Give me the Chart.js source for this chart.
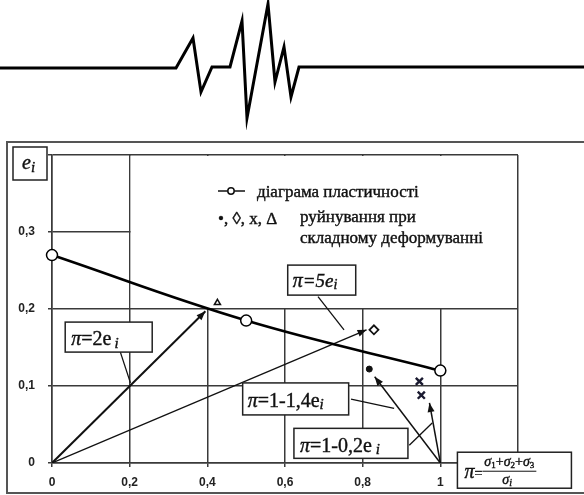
<!DOCTYPE html>
<html>
<head>
<meta charset="utf-8">
<script src="https://cdn.jsdelivr.net/npm/chart.js@4.4.1/dist/chart.umd.min.js"></script>
<style>
  html, body { margin: 0; padding: 0; background: #fff; }
  #wave { position: absolute; left: 0; top: 0; }
  #main { position: absolute; left: 0; top: 130px; }
</style>
</head>
<body>
<canvas id="wave" width="584" height="130"></canvas>
<canvas id="main" width="584" height="365"></canvas>
<script>
// decorative header line (pixel units of its own canvas)
const waveX = [0, 176, 193, 201, 212, 230, 242, 247, 268, 275, 284, 291, 299, 584];
const waveY = [68, 68, 38, 92, 67, 67, 21, 118, 4, 82, 47, 97, 67, 67];

// plasticity diagram e_i(p)
const plastX = [0, 0.5, 1];
const plastY = [0.27, 0.185, 0.12];

// failure points under complex loading
const dotPts = [{ x: 0.817, y: 0.122 }];
const diamondPts = [{ x: 0.829, y: 0.173 }];
const crossPts = [{ x: 0.946, y: 0.106 }, { x: 0.951, y: 0.088 }];
const trianglePts = [{ x: 0.426, y: 0.208 }];

// loading paths (arrows)
const pathP2 = [{ x: 0, y: 0 }, { x: 0.395, y: 0.197 }];
const pathP5 = [{ x: 0, y: 0 }, { x: 0.81, y: 0.173 }];
const pathDot = [{ x: 1, y: 0 }, { x: 0.831, y: 0.112 }];
const pathCross = [{ x: 1, y: 0 }, { x: 0.972, y: 0.078 }];

// leader lines from labels
const leadP2 = [{ x: 0.176, y: 0.144 }, { x: 0.202, y: 0.104 }];
const leadP5 = [{ x: 0.685, y: 0.216 }, { x: 0.752, y: 0.173 }];
const leadP14 = [{ x: 0.770, y: 0.083 }, { x: 0.881, y: 0.071 }];
const leadP02 = [{ x: 0.920, y: 0.023 }, { x: 0.979, y: 0.052 }];

const xTicks = [0, 0.2, 0.4, 0.6, 0.8, 1];
const yTicks = [0, 0.1, 0.2, 0.3];

const INK = '#111';
const GRID = '#3a3a3a';
const SERIF = '"Liberation Serif", "DejaVu Serif", serif';

new Chart(document.getElementById('wave'), {
  type: 'line',
  data: {
    datasets: [{
      data: waveX.map((x, i) => ({ x, y: waveY[i] })),
      borderColor: '#000', borderWidth: 3, pointRadius: 0, tension: 0,
      borderJoinStyle: 'miter'
    }]
  },
  options: {
    responsive: false, animation: false, devicePixelRatio: 1,
    layout: { padding: 0 },
    plugins: { legend: { display: false }, tooltip: { enabled: false } },
    scales: {
      x: { type: 'linear', min: 0, max: 584, display: false },
      y: { type: 'linear', min: 0, max: 130, reverse: true, display: false }
    }
  }
});

function fmtTick(v) {
  if (Math.abs(v) < 1e-9) return '0';
  if (Math.abs(v - 1) < 1e-9) return '1';
  return v.toFixed(1).replace('.', ',');
}

// draws a run of text pieces (italic / subscript) with a slight heavy stroke like the scan
function rich(ctx, x, y, parts) {
  parts.forEach((p) => {
    ctx.font = (p.it ? 'italic ' : '') + (p.bold ? 'bold ' : '') + p.size + 'px ' + SERIF;
    ctx.fillText(p.t, x, y + (p.dy || 0));
    ctx.lineWidth = 0.4;
    ctx.strokeStyle = ctx.fillStyle;
    ctx.strokeText(p.t, x, y + (p.dy || 0));
    x += ctx.measureText(p.t).width + (p.gap || 0);
  });
  return x;
}

function lineSet(data, width, order) {
  return {
    type: 'line', data, borderColor: INK, borderWidth: width,
    pointRadius: 0, tension: 0, order: order || 5
  };
}

const arrowSets = [
  Object.assign(lineSet(pathP2, 2), { arrow: true }),
  Object.assign(lineSet(pathP5, 1.3), { arrow: true }),
  Object.assign(lineSet(pathDot, 1.5), { arrow: true }),
  Object.assign(lineSet(pathCross, 1.5), { arrow: true })
];
const leaderSets = [leadP2, leadP5, leadP14, leadP02].map((d) => lineSet(d, 1.3));

const p = () => ({ t: 'π', it: true, size: 20 });
const labelBoxes = [
  { x: 0.034, y: 0.183, w: 87, h: 30, tx: 6, ty: 23,
    parts: [p(), { t: '=2e', size: 20, gap: 3 }, { t: 'i', it: true, size: 15, dy: 3 }] },
  { x: 0.607, y: 0.257, w: 68, h: 30, tx: 5, ty: 22,
    parts: [p(), { t: '=5e', it: true, size: 19 }, { t: 'i', it: true, size: 14, dy: 2 }] },
  { x: 0.491, y: 0.104, w: 106, h: 32, tx: 5, ty: 24,
    parts: [p(), { t: '=1-1,4e', size: 20 }, { t: 'i', it: true, size: 15, dy: 2 }] },
  { x: 0.623, y: 0.045, w: 114, h: 30, tx: 6, ty: 24,
    parts: [p(), { t: '=1-0,2e', size: 20, gap: 4 }, { t: 'i', it: true, size: 15, dy: 2 }] }
];

const decor = {
  id: 'decor',
  beforeDatasetsDraw(chart) {
    const { ctx, scales: { x, y } } = chart;
    // blank the upper-right cell block that holds the legend
    const x0 = x.getPixelForValue(0.2), x1 = x.getPixelForValue(1.2);
    const y0 = y.getPixelForValue(0.4), y1 = y.getPixelForValue(0.2);
    ctx.save();
    ctx.fillStyle = '#fff';
    ctx.fillRect(x0 + 1, y0 + 1, x1 - x0 - 2, y1 - y0 - 2);
    ctx.restore();
  },
  afterDatasetsDraw(chart) {
    const { ctx } = chart;
    ctx.save();
    chart.data.datasets.forEach((ds, i) => {
      if (!ds.arrow) return;
      const pts = chart.getDatasetMeta(i).data;
      const a = pts[pts.length - 2], b = pts[pts.length - 1];
      const ang = Math.atan2(b.y - a.y, b.x - a.x);
      const len = 9, half = 3.5;
      ctx.fillStyle = INK;
      ctx.beginPath();
      ctx.moveTo(b.x, b.y);
      ctx.lineTo(b.x - len * Math.cos(ang) + half * Math.sin(ang), b.y - len * Math.sin(ang) - half * Math.cos(ang));
      ctx.lineTo(b.x - len * Math.cos(ang) - half * Math.sin(ang), b.y - len * Math.sin(ang) + half * Math.cos(ang));
      ctx.closePath();
      ctx.fill();
    });
    ctx.restore();
  },
  afterDraw(chart) {
    const { ctx, chartArea: ca, scales: { x, y } } = chart;
    ctx.save();
    // outer frame
    ctx.strokeStyle = '#555';
    ctx.lineWidth = 2;
    ctx.strokeRect(7, 12, chart.width + 10, 351);

    // e_i axis label box
    ctx.strokeStyle = '#222';
    ctx.lineWidth = 1.5;
    ctx.fillStyle = '#fff';
    ctx.fillRect(ca.left - 39, ca.top - 8, 34, 33);
    ctx.strokeRect(ca.left - 39, ca.top - 8, 34, 33);
    ctx.fillStyle = INK;
    ctx.textBaseline = 'alphabetic';
    rich(ctx, ca.left - 30, ca.top + 14, [{ t: 'e', it: true, size: 20 }, { t: 'i', it: true, size: 15, dy: 3 }]);

    // labels in boxes
    labelBoxes.forEach((b) => {
      const bx = x.getPixelForValue(b.x), by = y.getPixelForValue(b.y);
      ctx.fillStyle = '#fff';
      ctx.fillRect(bx, by, b.w, b.h);
      ctx.strokeStyle = '#222';
      ctx.lineWidth = 1.5;
      ctx.strokeRect(bx, by, b.w, b.h);
      ctx.fillStyle = INK;
      rich(ctx, bx + b.tx, by + b.ty, b.parts);
    });

    // formula box for p
    const fx = x.getPixelForValue(1.044), fy = y.getPixelForValue(0.014);
    ctx.fillStyle = '#fff';
    ctx.fillRect(fx, fy, 114, 36);
    ctx.strokeStyle = '#222';
    ctx.lineWidth = 1.5;
    ctx.strokeRect(fx, fy, 114, 36);
    ctx.fillStyle = INK;
    const nx = rich(ctx, fx + 7, fy + 26, [{ t: 'π', it: true, size: 20 }, { t: '=', size: 14 }]);
    const num = [
      { t: 'σ', it: true, size: 14 }, { t: '1', size: 9, dy: 2 }, { t: '+', size: 14 },
      { t: 'σ', it: true, size: 14 }, { t: '2', size: 9, dy: 2 }, { t: '+', size: 14 },
      { t: 'σ', it: true, size: 14 }, { t: '3', size: 9, dy: 2 }
    ];
    const endNum = rich(ctx, nx + 2, fy + 14, num);
    ctx.strokeStyle = INK;
    ctx.lineWidth = 1;
    ctx.beginPath();
    ctx.moveTo(nx, fy + 19);
    ctx.lineTo(endNum + 2, fy + 19);
    ctx.stroke();
    rich(ctx, (nx + endNum) / 2 - 6, fy + 32, [{ t: 'σ', it: true, size: 14 }, { t: 'i', it: true, size: 10, dy: 2 }]);

    // legend
    const lx = ca.left + 166;
    ctx.strokeStyle = INK;
    ctx.lineWidth = 1.5;
    ctx.beginPath();
    ctx.moveTo(lx, ca.top + 36);
    ctx.lineTo(lx + 27, ca.top + 36);
    ctx.stroke();
    ctx.fillStyle = '#fff';
    ctx.beginPath();
    ctx.arc(lx + 13, ca.top + 36, 3.2, 0, Math.PI * 2);
    ctx.fill();
    ctx.stroke();
    ctx.fillStyle = INK;
    rich(ctx, ca.left + 205, ca.top + 42, [{ t: 'діаграма пластичності', size: 17 }]);
    rich(ctx, lx, ca.top + 69, [{ t: '•, ◊, x, Δ', size: 17 }]);
    rich(ctx, ca.left + 248, ca.top + 67, [{ t: 'руйнування при', size: 17 }]);
    rich(ctx, ca.left + 248, ca.top + 88, [{ t: 'складному деформуванні', size: 17 }]);
    ctx.restore();
  }
};

new Chart(document.getElementById('main'), {
  type: 'scatter',
  data: {
    datasets: [
      ...arrowSets,
      ...leaderSets,
      {
        type: 'line',
        data: plastX.map((v, i) => ({ x: v, y: plastY[i] })),
        borderColor: '#000', borderWidth: 2.6, tension: 0.4,
        pointRadius: 5.5, pointBorderWidth: 1.5, clip: false,
        pointBackgroundColor: '#fff', pointBorderColor: '#000', order: 1
      },
      { data: dotPts, pointStyle: 'circle', pointRadius: 3, pointBackgroundColor: INK, pointBorderColor: INK, order: 2 },
      { data: diamondPts, pointStyle: 'rectRot', pointRadius: 4.5, pointBorderWidth: 1.8, pointBackgroundColor: '#fff', pointBorderColor: INK, order: 2 },
      { data: crossPts, pointStyle: 'crossRot', pointRadius: 5, pointBorderWidth: 2.4, pointBorderColor: '#1a1a30', order: 2 },
      { data: trianglePts, pointStyle: 'triangle', pointRadius: 3.5, pointBorderWidth: 1.5, pointBackgroundColor: '#fff', pointBorderColor: INK, order: 2 }
    ]
  },
  options: {
    responsive: false, animation: false, devicePixelRatio: 1,
    layout: { padding: { top: 25, right: 66, left: 0, bottom: 0 } },
    plugins: { legend: { display: false }, tooltip: { enabled: false } },
    scales: {
      x: {
        type: 'linear', min: 0, max: 1.2,
        afterBuildTicks: (s) => { s.ticks = xTicks.concat([1.2]).map((v) => ({ value: v })); },
        afterFit: (s) => { s.height = 32; },
        ticks: {
          callback: (v) => (xTicks.some((t) => Math.abs(t - v) < 1e-9) ? fmtTick(v) : ''),
          font: { family: '"Liberation Sans", Arial, sans-serif', size: 12, weight: 'bold' },
          color: '#222', padding: 8, maxRotation: 0, autoSkip: false
        },
        grid: { color: GRID, lineWidth: 1.5, tickLength: 4 },
        border: { color: GRID, width: 1.5 }
      },
      y: {
        type: 'linear', min: 0, max: 0.4,
        afterBuildTicks: (s) => { s.ticks = yTicks.concat([0.4]).map((v) => ({ value: v })); },
        afterFit: (s) => { s.width = 52; },
        ticks: {
          callback: (v) => (yTicks.some((t) => Math.abs(t - v) < 1e-9) ? fmtTick(v) : ''),
          font: { family: '"Liberation Sans", Arial, sans-serif', size: 12, weight: 'bold' },
          color: '#222', padding: 13, autoSkip: false
        },
        grid: { color: GRID, lineWidth: 1.5, tickLength: 4 },
        border: { color: GRID, width: 1.5 }
      }
    }
  },
  plugins: [decor]
});
</script>
</body>
</html>
